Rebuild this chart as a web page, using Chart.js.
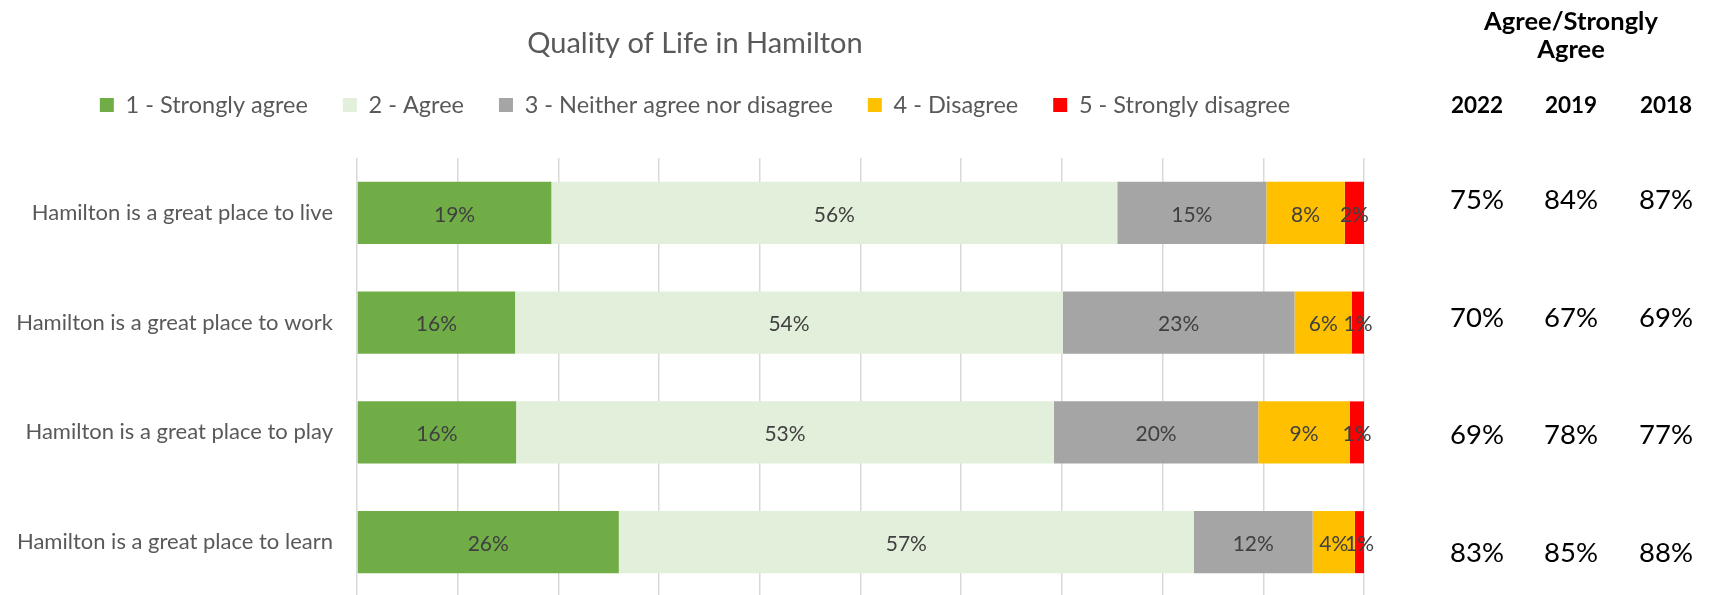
<!DOCTYPE html>
<html>
<head>
<meta charset="utf-8">
<title>Quality of Life in Hamilton</title>
<script src="https://cdn.jsdelivr.net/npm/chart.js@4.4.1/dist/chart.umd.min.js"></script>
<style>
    html, body { margin: 0; padding: 0; background: #ffffff; overflow: hidden; }
    #wrap { width: 1711px; height: 600px; }
</style>
</head>
<body>
<div id="wrap"><canvas id="chartCanvas" width="1711" height="600"></canvas></div>
<script>
// Survey statements (one bar each)
const categories = [
    'Hamilton is a great place to live',
    'Hamilton is a great place to work',
    'Hamilton is a great place to play',
    'Hamilton is a great place to learn'
];

// Legend names for the five answers
const answerLabels = [
    '1 - Strongly agree',
    '2 - Agree',
    '3 - Neither agree nor disagree',
    '4 - Disagree',
    '5 - Strongly disagree'
];

// Share of answers in percent
const stronglyAgree = [19.3, 15.7, 15.8, 26.0];
const agree = [56.2, 54.4, 53.4, 57.1];
const neither = [14.8, 23.0, 20.3, 11.8];
const disagree = [7.8, 5.7, 9.1, 4.2];
const stronglyDisagree = [1.9, 1.2, 1.4, 0.9];

// Agree/Strongly agree table on the right
const tableHeader = ['Agree/Strongly', 'Agree'];
const years = ['2022', '2019', '2018'];
const agreeTotal2022 = [75, 70, 69, 83];
const agreeTotal2019 = [84, 67, 78, 85];
const agreeTotal2018 = [87, 69, 77, 88];

const answerColors = ['#70AD47', '#E2EFDA', '#A5A5A5', '#FFC000', '#FF0000'];

Chart.defaults.font.family = 'Lato, "Open Sans", sans-serif';

// Writes the rounded percentage in the middle of every bar piece
const segmentLabels = {
    id: 'segmentLabels',
    afterDatasetsDraw(chart) {
        const ctx = chart.ctx;
        ctx.save();
        ctx.font = '21px Lato';
        ctx.fillStyle = '#404040';
        ctx.textAlign = 'center';
        ctx.textBaseline = 'middle';
        chart.data.datasets.forEach((ds, i) => {
            const meta = chart.getDatasetMeta(i);
            meta.data.forEach((bar, j) => {
                const x = (bar.x + bar.base) / 2;
                ctx.fillText(Math.round(ds.data[j]) + '%', x, bar.y + 2);
            });
        });
        ctx.restore();
    }
};

// Draws the year comparison table to the right of the plot
const agreeTable = {
    id: 'agreeTable',
    afterDraw(chart) {
        const ctx = chart.ctx;
        const colX = [1477, 1571, 1666];
        const rowY = [209, 327, 444, 562];
        const columns = [agreeTotal2022, agreeTotal2019, agreeTotal2018];
        ctx.save();
        ctx.fillStyle = '#000000';
        ctx.textAlign = 'center';
        ctx.textBaseline = 'alphabetic';

        ctx.font = 'bold 25.5px Lato';
        ctx.fillText(tableHeader[0], colX[1], 30);
        ctx.fillText(tableHeader[1], colX[1], 58);
        ctx.font = 'bold 22.5px Lato';
        years.forEach((y, k) => ctx.fillText(y, colX[k], 113));

        ctx.font = '27.5px Lato';
        columns.forEach((col, k) => {
            col.forEach((v, r) => ctx.fillText(v + '%', colX[k], rowY[r]));
        });
        ctx.restore();
    }
};

function makeDataset(label, values, color) {
    return {
        label: label,
        data: values,
        backgroundColor: color,
        borderWidth: 0,
        barPercentage: 0.565,
        categoryPercentage: 1.0
    };
}

const ctx = document.getElementById('chartCanvas');

window.myChart = new Chart(ctx, {
    type: 'bar',
    data: {
        labels: categories,
        datasets: [
            makeDataset(answerLabels[0], stronglyAgree, answerColors[0]),
            makeDataset(answerLabels[1], agree, answerColors[1]),
            makeDataset(answerLabels[2], neither, answerColors[2]),
            makeDataset(answerLabels[3], disagree, answerColors[3]),
            makeDataset(answerLabels[4], stronglyDisagree, answerColors[4])
        ]
    },
    options: {
        indexAxis: 'y',
        responsive: false,
        animation: false,
        devicePixelRatio: 1,
        layout: {
            padding: { left: 0, right: 321, top: 0, bottom: 3 }
        },
        plugins: {
            title: {
                display: true,
                text: 'Quality of Life in Hamilton',
                color: '#595959',
                font: { size: 29, weight: 'normal', lineHeight: 1.0 },
                padding: { top: 29, bottom: 0.25 }
            },
            legend: {
                display: true,
                position: 'top',
                labels: {
                    boxWidth: 14,
                    boxHeight: 14,
                    padding: 35,
                    color: '#595959',
                    font: { size: 23.5 }
                }
            },
            tooltip: { enabled: false }
        },
        scales: {
            x: {
                type: 'linear',
                position: 'top',
                stacked: true,
                min: 0,
                max: 100,
                ticks: { display: false, stepSize: 10 },
                grid: { color: '#D9D9D9', lineWidth: 1.5, drawTicks: false },
                border: { display: false },
                // spacer between the legend and the plot
                afterFit(scale) { scale.height = 31.25; }
            },
            y: {
                type: 'category',
                position: 'left',
                stacked: true,
                grid: { display: false, drawTicks: false },
                border: { display: false },
                ticks: {
                    color: '#595959',
                    padding: 24,
                    font: { size: 22 }
                },
                afterFit(scale) {
                    scale.width = 357;
                    // tick padding should not push the plot up from the bottom
                    scale.paddingTop = 0;
                    scale.paddingBottom = 0;
                }
            },
            // empty spacer so the plot ends where the table begins
            y2: {
                type: 'category',
                position: 'right',
                grid: { display: false, drawTicks: false },
                border: { display: false },
                ticks: { display: false },
                afterFit(scale) { scale.width = 26; }
            }
        }
    },
    plugins: [segmentLabels, agreeTable]
});
</script>
</body>
</html>
